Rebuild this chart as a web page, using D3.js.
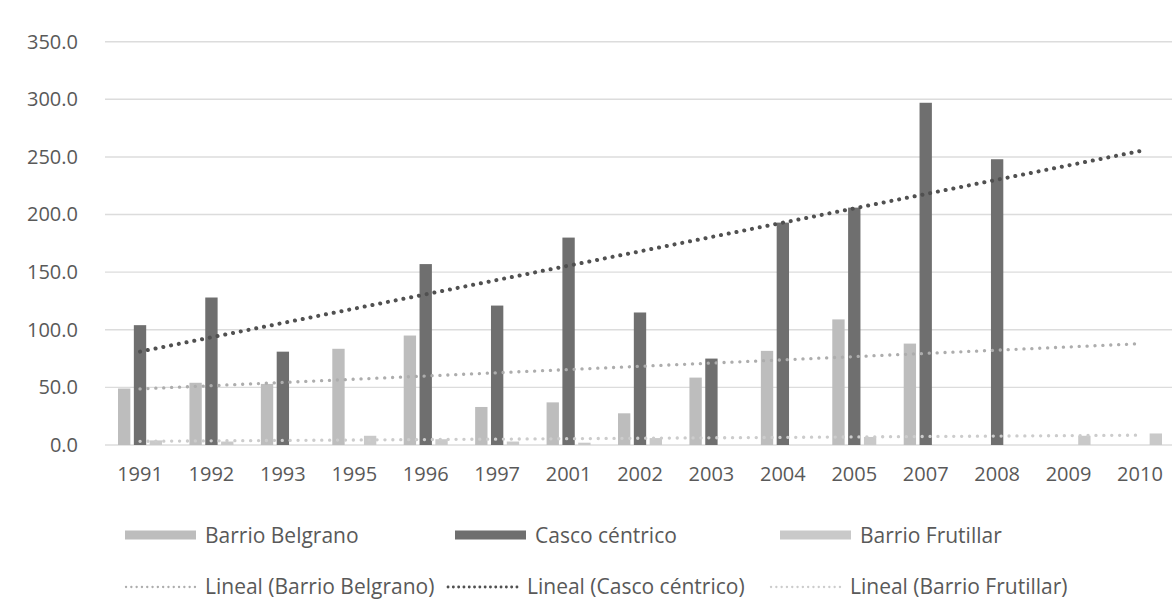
<!DOCTYPE html>
<html>
<head>
<meta charset="utf-8">
<script src="https://cdn.jsdelivr.net/npm/d3@7/dist/d3.min.js"></script>
<style>
  body { margin: 0; background: #fff; }
  text { font-family: "Open Sans", sans-serif; fill: #595959; }
</style>
</head>
<body>
<svg id="chart" width="1172" height="602"></svg>
<script>
// categorias (años) y series
var years = ["1991","1992","1993","1995","1996","1997","2001","2002","2003","2004","2005","2007","2008","2009","2010"];
var belgrano  = [49, 54, 53, 83.5, 95, 33, 37, 27.5, 58.5, 81.7, 109, 88, null, null, null];
var casco     = [104, 128, 81, null, 157, 121, 180, 115, 75, 193, 206, 297, 248, null, null];
var frutillar = [4, 3, null, 8, 5, 3, 2, 6, null, null, 7, null, null, 8, 10];
var yTicks = [0, 50, 100, 150, 200, 250, 300, 350];

var seriesNames = ["Barrio Belgrano", "Casco céntrico", "Barrio Frutillar"];
var seriesValues = [belgrano, casco, frutillar];

var barColor = ["#bdbdbd", "#6f6f6f", "#c9c9c9"];
var trendColor = ["#adadad", "#505050", "#cccccc"];

var svg = d3.select("#chart");

var x = d3.scaleBand()
  .domain(years)
  .range([104.3, 1175.7])
  .paddingInner(0.384)
  .paddingOuter(0.192);

var xs = d3.scaleBand()
  .domain(d3.range(3))
  .range([0, x.bandwidth()])
  .paddingInner(0.22);

var y = d3.scaleLinear()
  .domain([0, 350])
  .range([445, 41.7]);

// lineas de division
svg.append("g")
  .attr("class", "grid")
  .selectAll("line")
  .data(yTicks)
  .enter()
  .append("line")
  .attr("x1", 105)
  .attr("x2", 1172)
  .attr("y1", function(d){ return y(d); })
  .attr("y2", function(d){ return y(d); })
  .attr("stroke", "#dcdcdc")
  .attr("stroke-width", 1.4);

// eje y
var yAxis = svg.append("g")
  .attr("transform", "translate(95,0)")
  .call(d3.axisLeft(y).tickValues(yTicks).tickFormat(d3.format(".1f")).tickSize(0).tickPadding(17));
yAxis.select(".domain").remove();
yAxis.selectAll("text")
  .attr("font-size", 20)
  .attr("fill", "#595959")
  .style("font-family", "'Open Sans', sans-serif");

// eje x
var xAxis = svg.append("g")
  .attr("transform", "translate(0,445)")
  .call(d3.axisBottom(x).tickSize(0).tickPadding(22));
xAxis.select(".domain").remove();
xAxis.selectAll("text")
  .attr("font-size", 20)
  .attr("fill", "#595959")
  .style("font-family", "'Open Sans', sans-serif");

// barras
svg.append("g")
  .attr("class", "bars")
  .selectAll("g")
  .data(seriesValues)
  .enter()
  .append("g")
  .attr("fill", function(d, i){ return barColor[i]; })
  .each(function(vals, si){
    d3.select(this)
      .selectAll("rect")
      .data(vals.map(function(v, i){ return {year: years[i], v: v}; }).filter(function(d){ return d.v != null; }))
      .enter()
      .append("rect")
      .attr("x", function(d){ return x(d.year) + xs(si); })
      .attr("width", xs.bandwidth())
      .attr("y", function(d){ return y(d.v); })
      .attr("height", function(d){ return y(0) - y(d.v); });
  });

// tendencia lineal (minimos cuadrados, solo puntos con valor)
function linear(vals){
  var pts = [];
  vals.forEach(function(v, i){ if(v != null) pts.push([i + 1, v]); });
  var mx = d3.mean(pts, function(p){ return p[0]; });
  var my = d3.mean(pts, function(p){ return p[1]; });
  var sxy = d3.sum(pts, function(p){ return (p[0] - mx) * (p[1] - my); });
  var sxx = d3.sum(pts, function(p){ return (p[0] - mx) * (p[0] - mx); });
  var b = sxy / sxx, a = my - b * mx;
  return [[1, a + b], [years.length, a + b * years.length]];
}

var cx = function(k){ return x(years[k - 1]) + x.bandwidth() / 2; };
var line = d3.line()
  .x(function(p){ return cx(p[0]); })
  .y(function(p){ return y(p[1]); });

var trendOrder = [2, 0, 1];
svg.append("g")
  .attr("class", "trends")
  .selectAll("path")
  .data(trendOrder)
  .enter()
  .append("path")
  .attr("d", function(si){ return line(linear(seriesValues[si])); })
  .attr("fill", "none")
  .attr("stroke", function(si){ return trendColor[si]; })
  .attr("stroke-width", function(si){ return si == 1 ? 4 : 3.3; })
  .attr("stroke-linecap", "round")
  .attr("stroke-dasharray", "0.1 7.8");

// leyenda
var legend = svg.append("g").attr("class", "legend");
var row1 = [125, 455, 780];
var row2 = [125, 447, 770];

legend.selectAll("g.lb")
  .data(seriesNames)
  .enter()
  .append("g")
  .attr("class", "lb")
  .attr("transform", function(d, i){ return "translate(" + row1[i] + ",535)"; })
  .each(function(d, i){
    var g = d3.select(this);
    g.append("rect")
      .attr("x", 0).attr("y", -4.5).attr("width", 71).attr("height", 9)
      .attr("fill", barColor[i]);
    g.append("text")
      .attr("x", 80).attr("y", 7.5)
      .attr("font-size", 21)
      .text(d);
  });

legend.selectAll("g.lt")
  .data(seriesNames)
  .enter()
  .append("g")
  .attr("class", "lt")
  .attr("transform", function(d, i){ return "translate(" + row2[i] + ",587)"; })
  .each(function(d, i){
    var g = d3.select(this);
    g.append("line")
      .attr("x1", 1).attr("x2", 71).attr("y1", 0).attr("y2", 0)
      .attr("stroke", trendColor[i])
      .attr("stroke-width", i == 1 ? 2.8 : 2.3)
      .attr("stroke-linecap", "round")
      .attr("stroke-dasharray", "0.1 5.2");
    g.append("text")
      .attr("x", 80).attr("y", 7)
      .attr("font-size", 21)
      .text("Lineal (" + d + ")");
  });
</script>
</body>
</html>
